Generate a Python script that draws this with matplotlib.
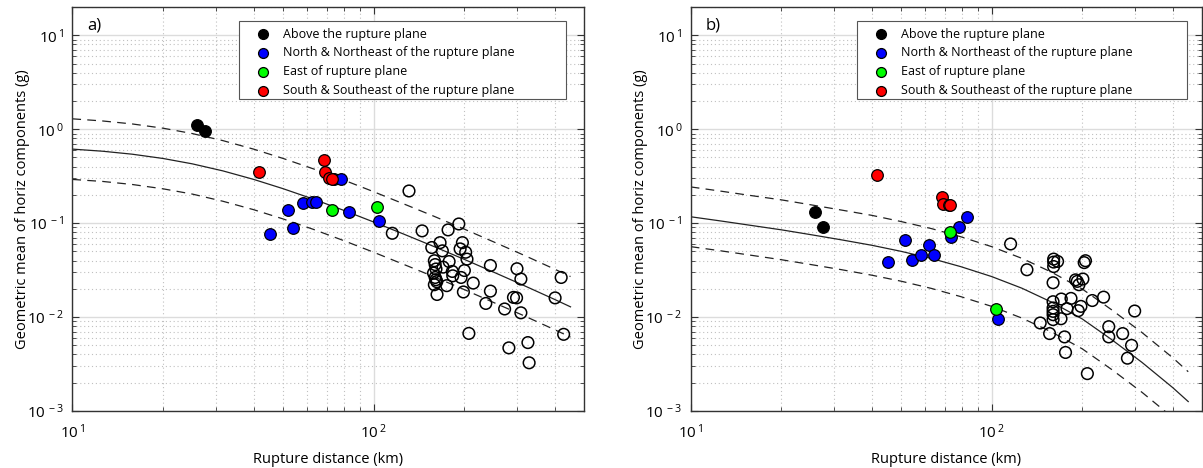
import numpy as np
import matplotlib
matplotlib.use("Agg")
import matplotlib.pyplot as plt
from matplotlib.patches import Rectangle
from matplotlib.ticker import FixedLocator, LogLocator, NullFormatter, FuncFormatter

plt.rcParams['font.family'] = ['Open Sans', 'DejaVu Sans']
plt.rcParams['mathtext.default'] = 'regular'

# ---------------- data ----------------
labels = ["Above the rupture plane",
          "North & Northeast of the rupture plane",
          "East of rupture plane",
          "South & Southeast of the rupture plane"]
colors = ["#000000", "#0000ff", "#00ff00", "#ff0000"]

# Panel a
a_black_R = [25.9, 27.6]
a_black_y = [1.10, 0.95]
a_blue_R = [45.3, 51.9, 54.1, 58.2, 62.3, 64.2, 74.1, 77.8, 82.9, 104.5]
a_blue_y = [0.0774, 0.138, 0.0896, 0.163, 0.169, 0.169, 0.292, 0.292, 0.131, 0.106]
a_green_R = [72.9, 102.9]
a_green_y = [0.139, 0.150]
a_red_R = [41.7, 68.6, 68.9, 71.3, 72.9]
a_red_y = [0.35, 0.465, 0.347, 0.300, 0.297]
a_open_R = [131, 115.3, 144.8, 176.6, 191.7, 166.1, 155.9, 197, 193.6, 202, 169, 204, 178, 170,
            159, 160, 161, 158, 160, 162, 159, 161, 162.3,
            182.4, 183, 200, 195, 174.8, 198.5, 214, 244, 244, 235.6, 272, 299, 308, 291, 298, 308,
            207, 281, 325, 328, 400, 419, 427]
a_open_y = [0.22, 0.078, 0.0827, 0.0847, 0.098, 0.062, 0.055, 0.062, 0.0532, 0.049, 0.0507, 0.0414, 0.039, 0.034,
            0.0398, 0.0362, 0.0325, 0.0294, 0.0264, 0.0238, 0.0221, 0.0250, 0.0174,
            0.0306, 0.0275, 0.0313, 0.0264, 0.0216, 0.0185, 0.023, 0.0354, 0.0189, 0.01397, 0.0122, 0.0327, 0.0254, 0.0162, 0.016, 0.0111,
            0.0067, 0.0047, 0.00535, 0.00326, 0.016, 0.0264, 0.00655]

# Panel b
b_black_R = [25.8, 27.5]
b_black_y = [0.130, 0.0918]
b_blue_R = [45.2, 51.7, 54.2, 58.2, 61.7, 64.3, 73.4, 77.8, 82.8, 104.6]
b_blue_y = [0.0387, 0.0658, 0.0404, 0.0463, 0.0582, 0.046, 0.0708, 0.0918, 0.117, 0.00955]
b_green_R = [72.8, 103]
b_green_y = [0.080, 0.0123]
b_red_R = [41.7, 68.3, 68.9, 71.9, 72.9]
b_red_y = [0.327, 0.188, 0.160, 0.157, 0.155]
b_open_R = [115.6, 131, 160.7, 160.7, 160.7, 165.6, 160, 160, 160, 160, 160, 160, 170.4, 170, 183.5, 178,
            190, 192.5, 195, 201, 203, 205, 198, 194, 216, 235.5, 145, 155.8, 174.7, 176, 208,
            245, 245, 272.5, 291.7, 282.6, 298.7]
b_open_y = [0.060, 0.0319, 0.0414, 0.0385, 0.0345, 0.0391, 0.0232, 0.01457, 0.0125, 0.0115, 0.0106, 0.0094, 0.01556, 0.0096, 0.0158, 0.0123,
            0.0249, 0.024, 0.0221, 0.0254, 0.038, 0.0398, 0.013, 0.0117, 0.015, 0.0163, 0.00865, 0.00667, 0.00615, 0.0042, 0.0025,
            0.0079, 0.00615, 0.00667, 0.005, 0.00365, 0.0116]

# model curves (median and +/- one standard deviation)
curve_R = [10, 12.6, 15.8, 20, 25, 31.6, 40, 50, 63, 79, 100, 126, 158, 200, 250, 316, 400, 450]
a_med = [0.614, 0.583, 0.542, 0.488, 0.428, 0.360, 0.292, 0.233, 0.1805, 0.138, 0.1028, 0.0763,
         0.0566, 0.0411, 0.0301, 0.0216, 0.01533, 0.01285]
a_up = [1.29, 1.224, 1.138, 1.025, 0.899, 0.756, 0.613, 0.489, 0.379, 0.290, 0.216, 0.160,
        0.1189, 0.0863, 0.0632, 0.0454, 0.0322, 0.0270]
a_lo = [0.292, 0.278, 0.258, 0.232, 0.204, 0.171, 0.139, 0.111, 0.0860, 0.0657, 0.0490, 0.0363,
        0.0270, 0.0196, 0.0143, 0.0103, 0.0073, 0.00612]
b_med = [0.1169, 0.1054, 0.0948, 0.0849, 0.0755, 0.0665, 0.0581, 0.0501, 0.0421, 0.0344, 0.0270,
         0.0203, 0.01445, 0.00955, 0.00578, 0.00329, 0.00177, 0.00126]
b_up = [0.243, 0.219, 0.197, 0.177, 0.157, 0.138, 0.121, 0.104, 0.0876, 0.0716, 0.0562,
        0.0422, 0.0301, 0.0199, 0.0120, 0.00684, 0.00368, 0.00262]
b_lo = [0.0562, 0.0507, 0.0456, 0.0408, 0.0363, 0.0320, 0.0279, 0.0241, 0.0202, 0.0165, 0.0130,
        0.00976, 0.00695, 0.00459, 0.00278, 0.00158, 0.00085, 0.00061]

xticks = [10, 100]
yticks = [1e-3, 1e-2, 1e-1, 1e0, 1e1]

panels = [
    ("a)", [(a_black_R, a_black_y), (a_blue_R, a_blue_y), (a_green_R, a_green_y), (a_red_R, a_red_y)],
     (a_open_R, a_open_y), (a_med, a_up, a_lo)),
    ("b)", [(b_black_R, b_black_y), (b_blue_R, b_blue_y), (b_green_R, b_green_y), (b_red_R, b_red_y)],
     (b_open_R, b_open_y), (b_med, b_up, b_lo)),
]

fig = plt.figure(figsize=(12.03, 4.68), dpi=100)
W, H = 1203, 468
rects = [[72.3 / W, 57 / H, 512 / W, 404 / H],
         [690.7 / W, 57 / H, 511.3 / W, 404 / H]]
# legend frame boxes in axes fractions: x0, y0, x1, y1
leg_boxes = [(0.3256, 0.7723, 0.9643, 0.9653),
             (0.3253, 0.7723, 0.9707, 0.9653)]


def fmt(v, pos):
    e = int(round(np.log10(v)))
    return r"10$^{\,%d}$" % e


for (tag, groups, opens, curves), rect, lb in zip(panels, rects, leg_boxes):
    ax = fig.add_axes(rect)
    ax.set_xscale('log')
    ax.set_yscale('log')
    ax.set_xlim(10, 500)
    ax.set_ylim(1e-3, 20)

    ax.xaxis.set_major_locator(FixedLocator(xticks))
    ax.yaxis.set_major_locator(FixedLocator(yticks))
    ax.xaxis.set_minor_locator(LogLocator(base=10, subs=np.arange(2, 10)))
    ax.yaxis.set_minor_locator(LogLocator(base=10, subs=np.arange(2, 10)))
    ax.xaxis.set_minor_formatter(NullFormatter())
    ax.yaxis.set_minor_formatter(NullFormatter())
    ax.xaxis.set_major_formatter(FuncFormatter(fmt))
    ax.yaxis.set_major_formatter(FuncFormatter(fmt))

    ax.grid(True, which='major', color='#dcdcdc', linestyle='-', linewidth=1.0, zorder=0)
    ax.grid(True, which='minor', color='#c0c0c0', linestyle=(0, (1, 2.5)), linewidth=0.8, zorder=0)
    ax.set_axisbelow(True)
    ax.tick_params(which='both', direction='in', top=True, right=True, color='#333333',
                   labelsize=11)
    ax.tick_params(axis='x', which='major', pad=9)
    ax.tick_params(axis='y', which='major', pad=6)
    ax.tick_params(which='major', length=5, width=0.8)
    ax.tick_params(which='minor', length=3, width=0.6)
    for s in ax.spines.values():
        s.set_color('#333333')
        s.set_linewidth(1.0)

    med, up, lo = curves
    ax.plot(curve_R, med, color='#222222', lw=0.9, zorder=2)
    ax.plot(curve_R, up, color='#222222', lw=0.9, dashes=(7, 5), zorder=2)
    ax.plot(curve_R, lo, color='#222222', lw=0.9, dashes=(7, 5), zorder=2)

    ax.scatter(opens[0], opens[1], s=70, facecolors='none', edgecolors='black', linewidths=1.1, zorder=3)
    handles = []
    for (R, y), c, lab in zip(groups, colors, labels):
        h = ax.scatter(R, y, s=70, c=c, edgecolors='black', linewidths=0.9, zorder=4, label=lab)
        handles.append(h)

    # legend frame (MATLAB style, wide right margin)
    x0, y0, x1, y1 = lb
    ax.add_patch(Rectangle((x0, y0), x1 - x0, y1 - y0, transform=ax.transAxes,
                           facecolor='white', edgecolor='#555555', linewidth=0.8, zorder=9))
    fs = 9.0
    leg = ax.legend(handles=handles, loc='upper left',
                    bbox_to_anchor=(x0 + 16.5 / 512, y1 - 6.5 / 404),
                    borderaxespad=0, borderpad=0,
                    fontsize=fs, frameon=False,
                    handletextpad=1.0, labelspacing=0.47, handlelength=1.2,
                    scatterpoints=1, markerscale=0.85)
    leg.set_zorder(10)

    ax.text(0.03, 0.975, tag, transform=ax.transAxes, fontsize=12, va='top', ha='left')
    ax.set_xlabel("Rupture distance (km)", fontsize=10.5, labelpad=7)
    ax.set_ylabel("Geometric mean of horiz components (g)", fontsize=10.5, labelpad=-2)

fig.savefig("out.png", dpi=100)
